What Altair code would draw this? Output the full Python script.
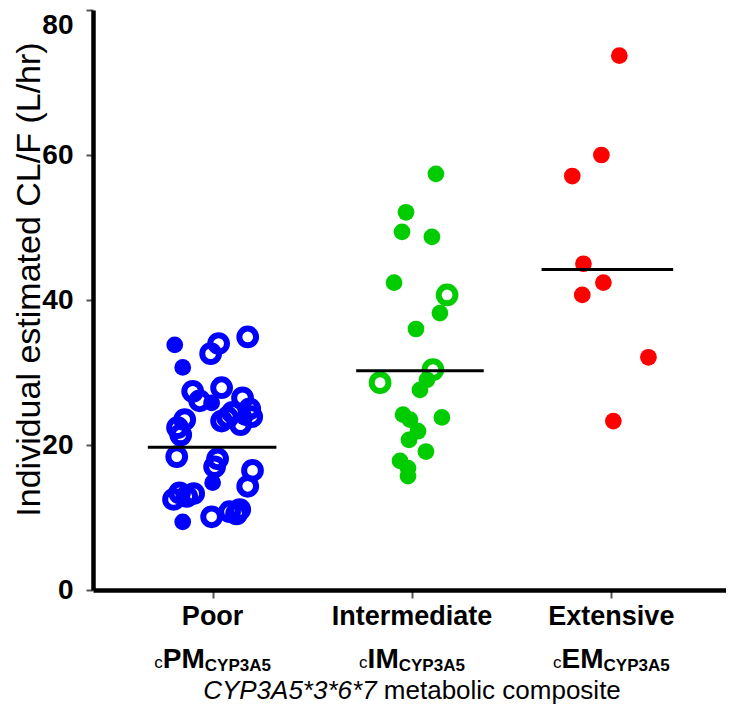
import altair as alt
import pandas as pd

FONT = "Liberation Sans, Arial, sans-serif"

categories = ["Poor", "Intermediate", "Extensive"]
abbrev = ["PM", "IM", "EM"]
colors = ["#0000FF", "#00CC00", "#FF0000"]

# jitter (in category units) and values; open = 1 for hollow circles
poor_jitter = [-0.19, -0.15, 0.0, -0.15, -0.005, 0.10, 0.16, 0.176, 0.03, -0.01, -0.10, -0.065,
               0.045, 0.15, 0.186, 0.196, 0.045, 0.14, -0.14, -0.176, -0.16, -0.18, 0.025, 0.01,
               0.20, 0.176, -0.166, -0.196, -0.13, -0.095, -0.005, 0.085, 0.136, 0.12, 0.075]
poor_values = [33.8, 30.7, 14.8, 9.4, 25.8, 24.5, 23.8, 34.9, 34.0, 32.6, 27.4, 26.1,
               27.9, 26.5, 25.0, 23.9, 23.3, 22.8, 23.5, 22.4, 21.4, 18.4, 18.1, 17.0,
               16.5, 14.3, 13.4, 12.5, 12.9, 13.3, 10.1, 10.8, 11.1, 10.5, 23.8]
poor_open = [0, 0, 0, 0, 0, 1, 0] + [1] * 28

green_jitter = [0.12, -0.03, -0.05, 0.10, -0.09, 0.14, 0.02, 0.04, 0.075, -0.045, -0.01,
                0.15, 0.03, -0.015, 0.07, -0.06, -0.02, -0.02, 0.176, 0.105, -0.16]
green_values = [57.4, 52.1, 49.4, 48.7, 42.4, 38.2, 36.0, 27.6, 29.0, 24.2, 23.5,
                23.8, 21.9, 20.7, 19.1, 17.8, 16.8, 15.7, 40.7, 30.4, 28.6]
green_open = [0] * 18 + [1] * 3

red_jitter = [0.04, -0.05, -0.196, -0.14, -0.04, -0.146, 0.186, 0.01]
red_values = [73.7, 60.0, 57.1, 45.0, 42.4, 40.7, 32.1, 23.3]
red_open = [0] * 8

medians = [19.7, 30.25, 44.2]
median_left = [-0.325, -0.28, -0.35]
median_right = [0.32, 0.36, 0.31]

y_ticks = [0, 20, 40, 60, 80]
y_title = "Individual estimated CL/F (L/hr)"
x_title_italic = "CYP3A5*3*6*7"
x_title_rest = "metabolic composite"
sub_prefix = "c"
sub_suffix = "CYP3A5"

# ---------------- tables ----------------
rows = []
for gi, (jit, vals, opn) in enumerate([(poor_jitter, poor_values, poor_open),
                                        (green_jitter, green_values, green_open),
                                        (red_jitter, red_values, red_open)]):
    for j, v, o in zip(jit, vals, opn):
        rows.append({"group": categories[gi], "x": gi + 1 + j, "value": v, "open": o})
df = pd.DataFrame(rows)

df_med = pd.DataFrame({
    "group": categories,
    "x1": [i + 1 + l for i, l in enumerate(median_left)],
    "x2": [i + 1 + r for i, r in enumerate(median_right)],
    "median": medians,
})
df_lab = pd.DataFrame({"x": [1, 2, 3], "label": categories})

W, H = 633, 580
xscale = alt.Scale(domain=[0.4, 3.575], nice=False, zero=False)
yscale = alt.Scale(domain=[0, 80], nice=False)
cscale = alt.Scale(domain=categories, range=colors)

x_axis = alt.Axis(values=[1, 2, 3], labels=False, title=None, grid=False,
                  domainColor="black", domainWidth=4.5, tickColor="#555555",
                  tickSize=8, tickWidth=2)
y_axis = alt.Axis(values=y_ticks, title=y_title, grid=False,
                  domainColor="black", domainWidth=4.5, tickColor="#555555",
                  tickSize=7, tickWidth=2, labelFont=FONT, labelFontSize=28,
                  labelFontWeight="bold", labelColor="black", labelPadding=13,
                  labelOffset=alt.condition("datum.value == 80", alt.value(15), alt.value(0)),
                  titleFont=FONT, titleFontSize=34, titleFontWeight="normal",
                  titleColor="black", titleAngle=270, titleAlign="center",
                  titleBaseline="alphabetic", titleX=-54, titleY=269)

base = alt.Chart(df)
filled = base.transform_filter("datum.open == 0").mark_point(
    shape="circle", filled=True, size=280, opacity=1).encode(
    x=alt.X("x:Q", scale=xscale, axis=x_axis),
    y=alt.Y("value:Q", scale=yscale, axis=y_axis),
    color=alt.Color("group:N", scale=cscale, legend=None))
hollow = base.transform_filter("datum.open == 1").mark_point(
    shape="circle", filled=False, size=280, strokeWidth=6, opacity=1).encode(
    x=alt.X("x:Q", scale=xscale),
    y=alt.Y("value:Q", scale=yscale),
    color=alt.Color("group:N", scale=cscale, legend=None))
rules = alt.Chart(df_med).mark_rule(color="black", strokeWidth=3).encode(
    x=alt.X("x1:Q", scale=xscale), x2="x2:Q", y=alt.Y("median:Q", scale=yscale))

labels = alt.Chart(df_lab).mark_text(font=FONT, fontSize=27, fontWeight="bold",
                                     baseline="alphabetic", align="center", color="black").encode(
    x=alt.X("x:Q", scale=xscale), y=alt.value(615), text="label:N")

# approximate Arial advance widths (em)
BOLD = {"P": .667, "M": .833, "I": .278, "E": .667, "C": .722, "Y": .667, "3": .556, "A": .722, "5": .556}
main_fs, sub_fs = 28, 17
layers = [filled, hollow, rules, labels]
for i, ab in enumerate(abbrev):
    wc = 0.5 * sub_fs
    wm = sum(BOLD[c] for c in ab) * main_fs
    ws = sum(BOLD[c] for c in sub_suffix) * sub_fs
    start = -(wc + wm + ws) / 2
    d = pd.DataFrame({"x": [i + 1]})
    layers.append(alt.Chart(d).mark_text(font=FONT, fontSize=sub_fs, fontWeight="normal", align="left",
                                         baseline="alphabetic", color="black", dx=start).encode(
        x=alt.X("x:Q", scale=xscale), y=alt.value(658), text=alt.value(sub_prefix)))
    layers.append(alt.Chart(d).mark_text(font=FONT, fontSize=main_fs, fontWeight="bold", align="left",
                                         baseline="alphabetic", color="black", dx=start + wc).encode(
        x=alt.X("x:Q", scale=xscale), y=alt.value(658), text=alt.value(ab)))
    layers.append(alt.Chart(d).mark_text(font=FONT, fontSize=sub_fs, fontWeight="bold", align="left",
                                         baseline="alphabetic", color="black", dx=start + wc + wm).encode(
        x=alt.X("x:Q", scale=xscale), y=alt.value(661), text=alt.value(sub_suffix)))

# x title: italic gene part + regular rest, centred on the middle category
t_fs = 26
w_it = 6.67 * t_fs
w_rest = (0.278 + 9.114) * t_fs
tstart = -(w_it + w_rest) / 2
dt = pd.DataFrame({"x": [2]})
layers.append(alt.Chart(dt).mark_text(font=FONT, fontSize=t_fs, fontStyle="italic", align="right",
                                      baseline="alphabetic", color="black", dx=tstart + w_it).encode(
    x=alt.X("x:Q", scale=xscale), y=alt.value(689), text=alt.value(x_title_italic)))
layers.append(alt.Chart(dt).mark_text(font=FONT, fontSize=t_fs, align="left",
                                      baseline="alphabetic", color="black", dx=tstart + w_it + 0.278 * t_fs).encode(
    x=alt.X("x:Q", scale=xscale), y=alt.value(689), text=alt.value(x_title_rest)))

chart = alt.layer(*layers).properties(
    width=W, height=H,
    autosize=alt.AutoSizeParams(type="none"),
    padding={"left": 85, "top": 2, "right": 0, "bottom": 118},
    background="white",
).configure_view(stroke=None)

chart.save("out.html", embed_options={"renderer": "svg", "actions": False})
